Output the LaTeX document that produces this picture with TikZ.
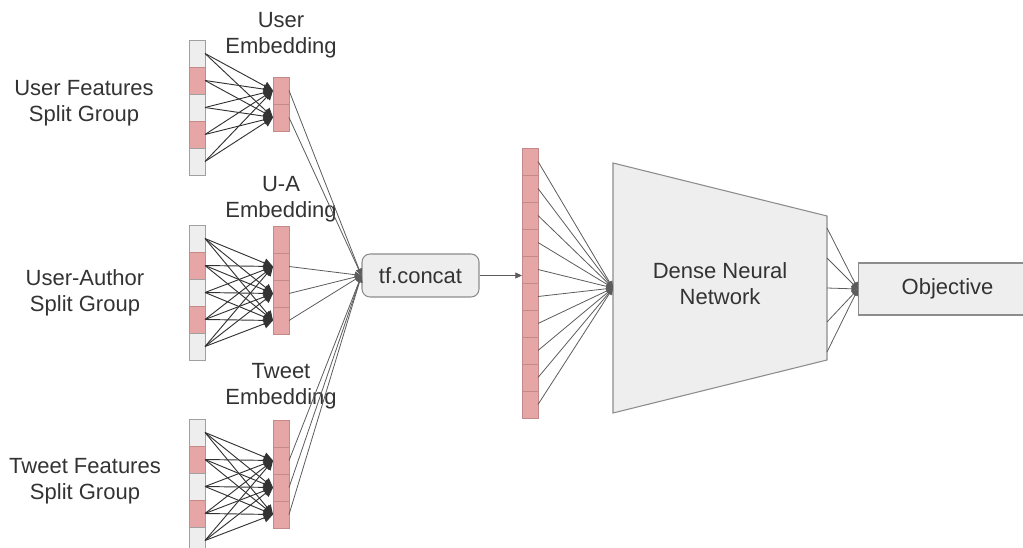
\documentclass[tikz,border=0pt]{standalone}
\usepackage{fontspec}
\setmainfont{Liberation Sans}
\usepackage{tikz}
\usetikzlibrary{arrows.meta,positioning}
\definecolor{ink}{HTML}{333333}
\definecolor{wiregray}{HTML}{5C5C5C}
\definecolor{rose}{HTML}{E6A6A6}
\definecolor{roseline}{HTML}{C48A8A}
\definecolor{pale}{HTML}{EEEEEE}
\definecolor{paleline}{HTML}{A0A0A0}
\definecolor{boxline}{HTML}{8C8C8C}

\begin{document}
\begin{tikzpicture}[x=0.75pt,y=-0.75pt,
  cell/.style={draw=paleline,fill=pale,minimum width=12pt,minimum height=20.25pt,inner sep=0pt,outer sep=0pt,line width=0.7pt},
  hot/.style={cell,draw=roseline,fill=rose},
  caption/.style={font=\fontsize{16.5}{19.5}\selectfont,text=ink,align=center},
  block/.style={draw=boxline,fill=pale,line width=0.8pt},
  wire/.style={-{Triangle[length=7pt,width=7pt]},draw=ink,line width=0.7pt},
  feed/.style={-{Triangle[length=5pt,width=4.5pt]},draw=wiregray,line width=0.6pt}
]
\useasboundingbox (0,0) rectangle (1023,548);

% split groups
\foreach \i/\s in {1/cell,2/hot,3/cell,4/hot,5/cell} {
  \node[\s] (uf\i) at (197,26.5+27*\i) {};
  \node[\s] (uaf\i) at (197,211.5+27*\i) {};
  \node[\s] (twf\i) at (197,405.5+27*\i) {};
}
\node[caption] (uflabel) at (84,103) {User Features\\Split Group};
\node[caption] (ualabel) at (85,293) {User-Author\\Split Group};
\node[caption] (twlabel) at (85,481) {Tweet Features\\Split Group};

% embeddings
\foreach \i in {1,2} \node[hot] (ue\i) at (281,63.5+27*\i) {};
\foreach \i in {1,...,4} {
  \node[hot] (ua\i) at (281,212.5+27*\i) {};
  \node[hot] (tw\i) at (281,406.5+27*\i) {};
}
\node[caption] (uelabel) at (281,35) {User\\Embedding};
\node[caption] (ualabel2) at (281,199) {U-A\\Embedding};
\node[caption] (twlabel2) at (281,386) {Tweet\\Embedding};

\foreach \i in {1,...,5} {
  \foreach \j in {1,2} \draw[wire] (uf\i.east) -- (ue\j.west);
  \foreach \j in {2,3,4} {
    \draw[wire] (uaf\i.east) -- (ua\j.west);
    \draw[wire] (twf\i.east) -- (tw\j.west);
  }
}

% concat and dense part
\node[block,caption,rounded corners=6pt,minimum width=87.75pt,minimum height=32.25pt] (concat) at (420.5,275.5) {tf.concat};
\foreach \n in {ue1,ue2,ua2,ua3,ua4,tw2,tw3,tw4}
  \draw[feed] (\n.east) -- (concat.west);

\foreach \i in {1,...,10} \node[hot] (big\i) at (530,134.5+27*\i) {};
\draw[feed] (concat.east) -- (concat.east -| big1.west);

\draw[block] (613,163) -- (827,216) -- (827,360) -- (613,413) -- cycle;
\node[caption] (dnn) at (720,284) {Dense Neural\\Network};
\coordinate (dnnin) at (613,288);
\foreach \i in {1,...,10} \draw[feed] (big\i.east) -- (dnnin);

\node[block,caption,anchor=west,minimum width=133.5pt,minimum height=39pt] (objective) at (858,289) {Objective};
\foreach \y [count=\i] in {228,258,288,322,352} {
  \coordinate (dout\i) at (827,\y);
  \draw[feed] (dout\i) -- (objective.west);
}
\end{tikzpicture}
\end{document}
